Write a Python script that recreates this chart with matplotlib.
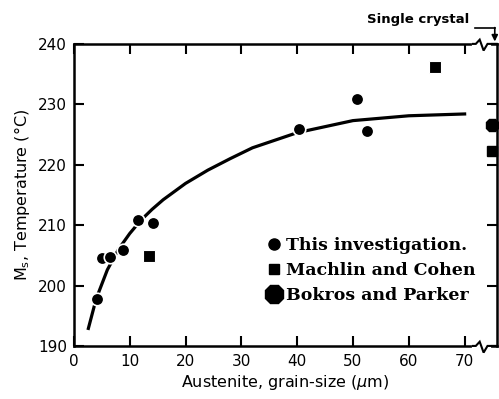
import matplotlib
matplotlib.use("Agg")
import matplotlib.pyplot as plt
from matplotlib.lines import Line2D

# data
this_x = [4.1, 5.1, 6.4, 8.8, 11.5, 14.1, 40.4, 50.7, 52.5]
this_y = [197.7, 204.5, 204.8, 205.8, 210.9, 210.3, 225.9, 230.9, 225.6]
mc_x = [13.5, 64.7]
mc_y = [204.9, 236.2]
# single crystal values (drawn at the broken right edge)
sc_x = 74.9
sc_mc_y = 222.3
sc_bp_y = 226.6
# smooth curve through the data
fit_x = [2.6, 4, 6, 8, 10, 12, 14, 16, 20, 24, 28, 32, 40, 50, 60, 70]
fit_y = [192.9, 197.8, 202.6, 206.0, 208.6, 210.8, 212.6, 214.2, 216.9,
         219.1, 221.0, 222.8, 225.3, 227.3, 228.1, 228.4]

xticks = [0, 10, 20, 30, 40, 50, 60, 70]
yticks = [190, 200, 210, 220, 230, 240]

plt.rcParams['font.family'] = 'DejaVu Sans'
fig = plt.figure(figsize=(4.99, 3.99), dpi=100)
ax = fig.add_axes([0.148, 0.133, 0.848, 0.757])

ax.plot(fit_x, fit_y, color='black', lw=2.3, zorder=2)
ax.plot(this_x, this_y, 'o', color='black', ms=9, mec='white', mew=1.2, zorder=3)
ax.plot(mc_x, mc_y, 's', color='black', ms=8, mec='white', mew=0.8, zorder=3)
ax.plot([sc_x], [sc_bp_y], '8', color='black', ms=9.5, clip_on=False, zorder=4)
ax.plot([sc_x], [sc_mc_y], 's', color='black', ms=7.5, clip_on=False, zorder=4)

ax.set_xlim(0, 75.8)
ax.set_ylim(190, 240)
ax.set_xticks(xticks)
ax.set_yticks(yticks)
ax.tick_params(direction='in', length=7, width=1.5, labelsize=11,
               top=True, right=True, pad=5)
ax.tick_params(axis='x', pad=6)
for s in ax.spines.values():
    s.set_linewidth(1.8)

ax.set_xlabel('Austenite, grain-size ($\\mu$m)', fontsize=11.5, labelpad=3)
ax.set_ylabel('M$_\\mathrm{s}$, Temperature (°C)', fontsize=11.5, labelpad=4)

# axis breaks on top and bottom spines
for y0 in [240, 190]:
    ax.plot([71.6, 74.4], [y0, y0], color='white', lw=3, clip_on=False, zorder=5)
    ax.plot([71.5, 72.0, 72.7, 73.4, 74.1, 75.8],
            [y0, y0, y0 + 0.7, y0 - 1.1, y0, y0],
            color='black', lw=1.5, clip_on=False, zorder=6, solid_joinstyle='miter')

# "Single crystal" label with arrow
ax.text(0.692, 1.08, 'Single crystal', transform=ax.transAxes, fontsize=9.5,
        fontweight='bold', va='center', ha='left')
ax.plot([71.9, 75.4], [242.6, 242.6], color='black', lw=1.2, clip_on=False)
ax.annotate('', xy=(75.4, 240.4), xytext=(75.4, 242.7),
            arrowprops=dict(arrowstyle='-|>', color='black', lw=1.2,
                            mutation_scale=9, shrinkA=0, shrinkB=0),
            annotation_clip=False)

handles = [
    Line2D([], [], marker='o', ls='', color='black', ms=8),
    Line2D([], [], marker='s', ls='', color='black', ms=7),
    Line2D([], [], marker='8', ls='', color='black', ms=14),
]
labels = ['This investigation.', 'Machlin and Cohen', 'Bokros and Parker']
ax.legend(handles, labels, loc='center left', bbox_to_anchor=(0.44, 0.25),
          frameon=False, handlelength=0.8, handletextpad=0.3, labelspacing=0.45,
          borderaxespad=0, prop={'family': 'DejaVu Serif', 'weight': 'bold', 'size': 12.5})

fig.savefig('out.png', dpi=100)
